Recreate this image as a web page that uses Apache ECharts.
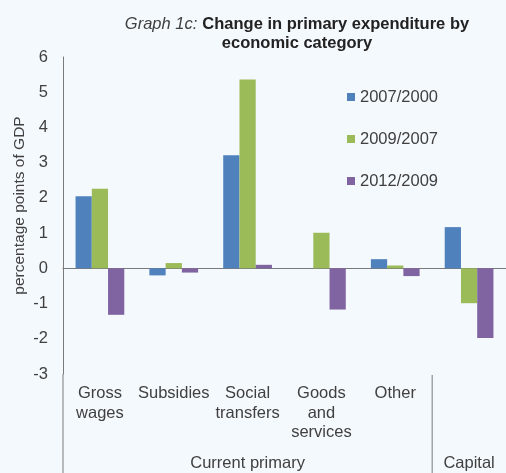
<!DOCTYPE html>
<html><head><meta charset="utf-8">
<script src="https://cdn.jsdelivr.net/npm/echarts@6/dist/echarts.min.js"></script>
<style>html,body{margin:0;padding:0;background:#F4F9FD;}#c{width:506px;height:473px;}</style>
</head><body><div id="c"></div>
<script>
const categories = ["Gross\nwages", "Subsidies", "Social\ntransfers", "Goods\nand\nservices", "Other", ""];
const groups = [{name: "Current primary", span: 5}, {name: "Capital", span: 1}];
const seriesNames = ["2007/2000", "2009/2007", "2012/2009"];
const s2007_2000 = [2.05, -0.20, 3.21, 0.00, 0.26, 1.17];
const s2009_2007 = [2.26, 0.15, 5.36, 1.01, 0.08, -0.99];
const s2012_2009 = [-1.32, -0.12, 0.10, -1.17, -0.22, -1.98];
const yTicks = {min: -3, max: 6, interval: 1};
const colors = ["#4F81BD", "#9BBB59", "#8064A2"];
const FONT = "'Liberation Sans', Arial, sans-serif";
const TXT = "#404040";
const AX = "#7a7a7a";

const chart = echarts.init(document.getElementById('c'));
const option = {
  backgroundColor: "#F4F9FD",
  animation: false,
  title: {
    left: 292, top: 10, textAlign: 'center',
    text: "{i|Graph 1c:} {b|Change in primary expenditure by}\n{b|economic category}",
    textStyle: {
      fontWeight: 'normal',
      rich: {
        i: {fontFamily: FONT, fontSize: 16.5, fontStyle: 'italic', fontWeight: 'normal', color: TXT, lineHeight: 19},
        b: {fontFamily: FONT, fontSize: 16.5, fontWeight: 'bold', color: '#222', lineHeight: 19}
      }
    }
  },
  legend: {
    orient: 'vertical', left: 342, top: 82,
    itemWidth: 8, itemHeight: 8, itemGap: 22, icon: 'rect',
    textStyle: {fontFamily: FONT, fontSize: 16.5, color: TXT, lineHeight: 20},
    data: seriesNames
  },
  grid: {left: 63, top: 57, width: 444, height: 317, containLabel: false},
  xAxis: [
    {type: 'category', data: categories, boundaryGap: true,
     axisLine: {show: true, onZero: true, lineStyle: {color: AX, width: 1}},
     axisTick: {show: false}, axisLabel: {show: false}, splitLine: {show: false}},
    {type: 'category', data: categories, position: 'bottom', boundaryGap: true,
     axisLine: {show: false, onZero: false}, axisTick: {show: false},
     axisLabel: {show: true, interval: 0, margin: 10, fontFamily: FONT, fontSize: 16.5, lineHeight: 19.5, color: TXT, verticalAlign: 'top'}}
  ],
  yAxis: {
    type: 'value', min: yTicks.min, max: yTicks.max, interval: yTicks.interval,
    axisLine: {show: true, onZero: false, lineStyle: {color: AX, width: 1}},
    axisTick: {show: false}, splitLine: {show: false},
    axisLabel: {margin: 15, fontFamily: FONT, fontSize: 16.5, color: TXT}
  },
  series: [s2007_2000, s2009_2007, s2012_2009].map((d, i) => ({
    name: seriesNames[i], type: 'bar', data: d, xAxisIndex: 0,
    barGap: '0%', barCategoryGap: '34%',
    itemStyle: {color: colors[i]}
  }))
};
chart.setOption(option);

const c0 = chart.convertToPixel({xAxisIndex: 0}, 0);
const c1 = chart.convertToPixel({xAxisIndex: 0}, 1);
const bw = c1 - c0;
const yBot = chart.convertToPixel({yAxisIndex: 0}, yTicks.min);
const yTop = chart.convertToPixel({yAxisIndex: 0}, yTicks.max);
const gfx = [];
let start = 0;
const leftEdge = c0 - bw / 2;
gfx.push({type: 'line', shape: {x1: leftEdge, y1: yBot, x2: leftEdge, y2: 473}, style: {stroke: AX, lineWidth: 1}, silent: true});
groups.forEach((g, gi) => {
  const a = chart.convertToPixel({xAxisIndex: 0}, start);
  const b = chart.convertToPixel({xAxisIndex: 0}, start + g.span - 1);
  gfx.push({type: 'text', x: (a + b) / 2, y: yBot + 89,
    style: {text: g.name, fontFamily: FONT, fontSize: 16.5, fill: TXT, align: 'center', verticalAlign: 'middle'}, silent: true});
  start += g.span;
  if (gi < groups.length - 1) {
    const xs = b + bw / 2;
    gfx.push({type: 'line', shape: {x1: xs, y1: yBot + 1, x2: xs, y2: 473}, style: {stroke: AX, lineWidth: 1}, silent: true});
  }
});
gfx.push({type: 'text', x: 20, y: (yTop + yBot) / 2 - 10, rotation: Math.PI / 2,
  style: {text: "percentage points of GDP", fontFamily: FONT, fontSize: 15.5, fill: TXT, align: 'center', verticalAlign: 'middle'}, silent: true});
chart.setOption({graphic: gfx});
</script></body></html>
